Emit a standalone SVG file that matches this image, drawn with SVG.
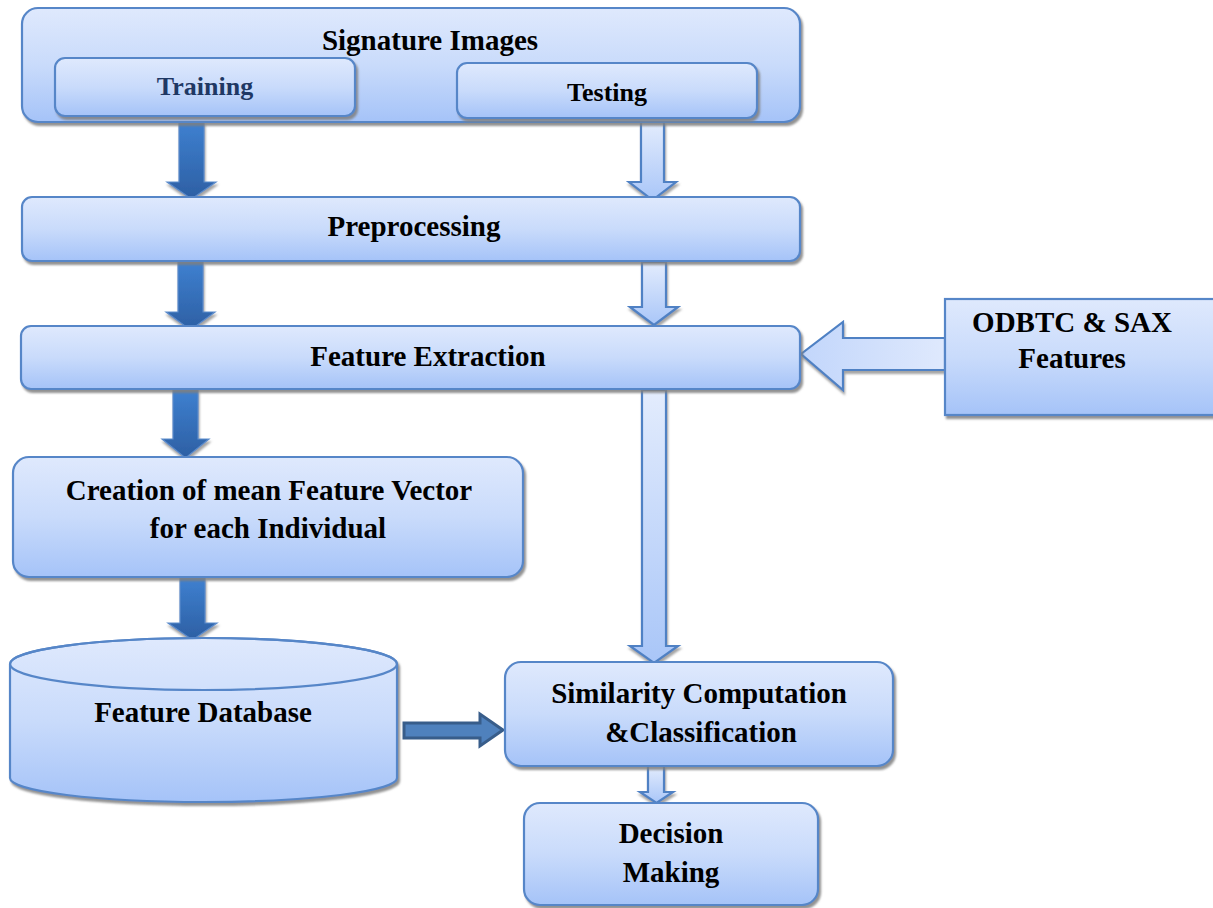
<svg xmlns="http://www.w3.org/2000/svg" width="1213" height="908" viewBox="0 0 1213 908">
<defs>
<linearGradient id="boxg" x1="0" y1="0" x2="0" y2="1">
<stop offset="0" stop-color="#dfe9fd"/>
<stop offset="0.5" stop-color="#c9dbfb"/>
<stop offset="1" stop-color="#a5c3f8"/>
</linearGradient>
<linearGradient id="darkg" x1="0" y1="0" x2="0" y2="1">
<stop offset="0" stop-color="#3e80d0"/>
<stop offset="1" stop-color="#2d5fa3"/>
</linearGradient>
<linearGradient id="lightg" x1="0" y1="0" x2="0" y2="1">
<stop offset="0" stop-color="#e3ecfd"/>
<stop offset="1" stop-color="#a9c6f8"/>
</linearGradient>
<linearGradient id="lighth" x1="0" y1="0" x2="1" y2="0">
<stop offset="0" stop-color="#c2d6fb"/>
<stop offset="1" stop-color="#dfe9fd"/>
</linearGradient>
<filter id="sh" x="-5%" y="-5%" width="115%" height="120%">
<feDropShadow dx="2" dy="3" stdDeviation="1" flood-color="#7f7f7f" flood-opacity="0.85"/>
</filter>
<filter id="sha" x="-20%" y="-10%" width="140%" height="130%">
<feDropShadow dx="1" dy="3" stdDeviation="1.2" flood-color="#7f7f7f" flood-opacity="0.7"/>
</filter>
</defs>
<style>
.box{fill:url(#boxg);stroke:#5686c8;stroke-width:2.2;filter:url(#sh)}
.dark{fill:url(#darkg);stroke:#5b8bcb;stroke-width:1.2;filter:url(#sha)}
.light{fill:url(#lightg);stroke:#4f81c4;stroke-width:2.2;filter:url(#sha)}
text{font-family:"Liberation Serif","Times New Roman",serif;font-weight:bold;font-size:29px;fill:#000;text-anchor:middle}
.sub{font-size:26px}
</style>

<g id="connectors">
<path class="dark" d="M179,122 L204,122 L204,182 L216,182 L191.5,199 L167,182 L179,182 Z"/>
<path class="light" d="M641,122 L664,122 L664,182 L676,182 L652.5,200 L629,182 L641,182 Z"/>
<path class="dark" d="M178,262 L203,262 L203,312 L215,312 L190.5,330 L166,312 L178,312 Z"/>
<path class="light" d="M642,262 L666,262 L666,307 L678,307 L654,325 L630,307 L642,307 Z"/>
<path class="dark" d="M173,390 L198,390 L198,439 L209,439 L185.5,458 L162,439 L173,439 Z"/>
<path class="light" d="M642,390 L666,390 L666,646 L678,646 L654,663 L630,646 L642,646 Z"/>
<path class="dark" d="M180,578 L205,578 L205,623 L217,623 L192.5,640 L168,623 L180,623 Z"/>
<path class="light" style="fill:url(#lighth)" d="M945,338 L843,338 L843,322 L801,354 L843,390 L843,370 L945,370 Z"/>
<path d="M404,723 L480,723 L480,714 L503,730 L480,746 L480,738 L404,738 Z" fill="#4f81bd" stroke="#385d8a" stroke-width="3"/>
<path class="light" d="M648,766 L664,766 L664,792 L673,792 L656.5,803 L640,792 L648,792 Z"/>
</g>

<g id="signature-images">
<rect class="box" x="22" y="8" width="778" height="114" rx="16"/>
<text x="430" y="50">Signature Images</text>
</g>
<g id="training">
<rect class="box" x="55" y="58" width="300" height="58" rx="10"/>
<text class="sub" x="205" y="95" style="fill:#1f3864">Training</text>
</g>
<g id="testing">
<rect class="box" x="457" y="63" width="300" height="55" rx="10"/>
<text class="sub" x="607" y="101">Testing</text>
</g>
<g id="preprocessing">
<rect class="box" x="22" y="197" width="778" height="64" rx="10"/>
<text x="414" y="236">Preprocessing</text>
</g>
<g id="feature-extraction">
<rect class="box" x="21" y="326" width="779" height="63" rx="10"/>
<text x="428" y="366">Feature Extraction</text>
</g>
<g id="odbtc-sax">
<rect class="box" x="945" y="299" width="280" height="116"/>
<text x="1072" y="332">ODBTC &amp; SAX</text>
<text x="1072" y="368">Features</text>
</g>
<g id="mean-feature-vector">
<rect class="box" x="13" y="457" width="510" height="120" rx="16"/>
<text x="269" y="500">Creation of mean Feature Vector</text>
<text x="268" y="538">for each Individual</text>
</g>
<g id="feature-database">
<path class="box" d="M10,664 A193.5,26 0 0 1 397,664 L397,778 A193.5,24 0 0 1 10,778 Z"/>
<ellipse cx="203.5" cy="664" rx="193.5" ry="26" fill="none" stroke="#5686c8" stroke-width="2.2"/>
<text x="203" y="722">Feature Database</text>
</g>
<g id="similarity">
<rect class="box" x="505" y="662" width="388" height="104" rx="16"/>
<text x="699" y="703">Similarity Computation</text>
<text x="701" y="742">&amp;Classification</text>
</g>
<g id="decision">
<rect class="box" x="524" y="803" width="294" height="102" rx="16"/>
<text x="671" y="843">Decision</text>
<text x="671" y="882">Making</text>
</g>
</svg>
